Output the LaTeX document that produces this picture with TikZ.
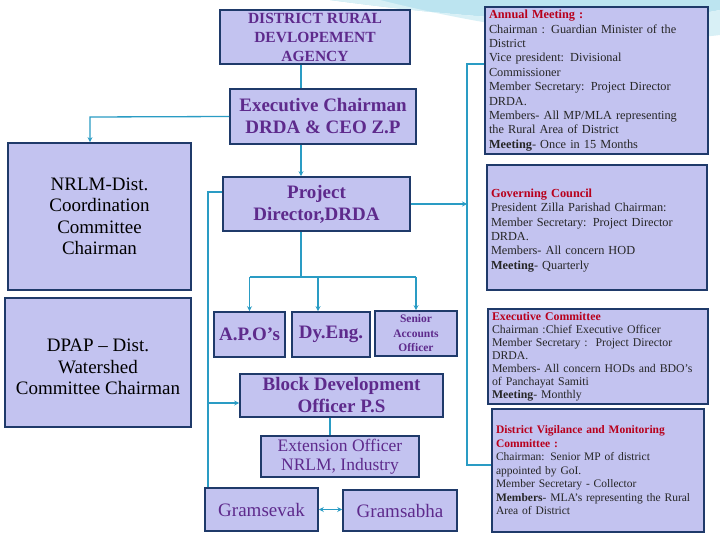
\documentclass[tikz,border=0pt]{standalone}
\usepackage{fontspec}
\setmainfont{Liberation Serif}
\usetikzlibrary{arrows.meta,calc}
\definecolor{boxfill}{HTML}{C3C3F0}
\definecolor{boxline}{HTML}{1F3A6A}
\definecolor{ptxt}{HTML}{5E2A8C}
\definecolor{conn}{HTML}{2A9CC4}
\definecolor{hdr}{HTML}{B8001C}
\definecolor{swoosh}{HTML}{8FD3E6}
\begin{document}
\begin{tikzpicture}[x=1pt,y=-1pt,
  box/.style={draw=boxline,line width=1.6pt,fill=boxfill,align=center,inner sep=2pt},
  ptitle/.style={box,text=ptxt,font=\bfseries\fontsize{19}{22}\selectfont},
  pplain/.style={box,text=ptxt,font=\fontsize{19}{22}\selectfont},
  lbox/.style={box,text=black,font=\fontsize{19}{21.5}\selectfont},
  rbox/.style={box,align=left,font=\fontsize{12.3}{14.4}\selectfont,text=black!85,inner sep=3pt},
  con/.style={draw=conn,line width=1.3pt},
  arr/.style={con,-{Stealth[length=5pt,width=5pt]}}]
\useasboundingbox (0,0) rectangle (720,540);
\fill[white] (0,0) rectangle (720,540);
% decorative swoosh
\fill[swoosh!60] (330,0) .. controls (480,20) and (620,30) .. (720,10) -- (720,0) -- cycle;
\fill[swoosh!35] (380,0) .. controls (520,35) and (640,45) .. (720,35) -- (720,10) .. controls (620,30) and (480,20) .. (330,0) -- cycle;
% nodes
\node[ptitle,minimum width=190,minimum height=54,font=\bfseries\fontsize{15.5}{19}\selectfont] (drda) at (315,37) {DISTRICT RURAL\\DEVLOPEMENT\\AGENCY};
\node[ptitle,minimum width=186,minimum height=55] (exec) at (323,116.5) {Executive Chairman\\DRDA \& CEO Z.P};
\node[ptitle,minimum width=187,minimum height=54] (pd) at (316.5,204) {Project\\Director,DRDA};
\node[ptitle,minimum width=71,minimum height=45] (apo) at (249.5,334.5) {A.P.O’s};
\node[ptitle,minimum width=78,minimum height=45] (dy) at (331,334.5) {Dy.Eng.};
\node[ptitle,minimum width=82,minimum height=45,font=\bfseries\fontsize{11.5}{14.5}\selectfont] (sao) at (416,333.5) {Senior\\Accounts\\Officer};
\node[ptitle,minimum width=203,minimum height=43] (bdo) at (341.5,395.5) {Block Development\\Officer P.S};
\node[pplain,minimum width=158,minimum height=41,font=\fontsize{17.5}{19}\selectfont] (ext) at (340,456.5) {Extension Officer\\NRLM, Industry};
\node[pplain,minimum width=113,minimum height=43] (gs) at (261.5,509.5) {Gramsevak};
\node[pplain,minimum width=114,minimum height=41] (gb) at (400,510.5) {Gramsabha};
\node[lbox,minimum width=183,minimum height=147] (nrlm) at (99.5,216.5) {NRLM-Dist.\\Coordination\\Committee\\Chairman};
\node[lbox,minimum width=186,minimum height=129] (dpap) at (98,362.5) {\\DPAP – Dist.\\Watershed\\Committee Chairman};
\node[rbox,minimum width=223,minimum height=145,text width=215] (ann) at (596.5,80.5) {{\color{hdr}\bfseries Annual Meeting :}\\Chairman : Guardian Minister of the\\District\\Vice president: Divisional\\Commissioner\\Member Secretary: Project Director\\DRDA.\\Members- All MP/MLA representing\\the Rural Area of District\\\textbf{Meeting}- Once in 15 Months};
\node[rbox,minimum width=220,minimum height=125,text width=212] (gov) at (597,227.5) {\\{\color{hdr}\bfseries Governing Council}\\President Zilla Parishad Chairman:\\Member Secretary: Project Director\\DRDA.\\Members- All concern HOD\\\textbf{Meeting}- Quarterly};
\node[rbox,minimum width=220,minimum height=93,text width=212,font=\fontsize{11.8}{13}\selectfont] (ec) at (598,356.5) {{\color{hdr}\bfseries Executive Committee}\\Chairman :Chief Executive Officer\\Member Secretary :\ \ Project Director\\DRDA.\\Members- All concern HODs and BDO’s\\of Panchayat Samiti\\\textbf{Meeting}- Monthly};
\node[rbox,minimum width=212,minimum height=123,text width=204,font=\fontsize{11.5}{13.5}\selectfont] (dvm) at (598,470.5) {{\color{hdr}\bfseries District Vigilance and Monitoring\\Committee :}\\Chairman: Senior MP of district\\appointed by GoI.\\Member Secretary - Collector\\\textbf{Members}- MLA’s representing the Rural\\Area of District\\};
% connectors
\coordinate (cx) at (301,0);
\coordinate (bus) at (301,277);
\coordinate (lx) at (90,117);
\coordinate (px) at (208,192);
\coordinate (rx) at (467,204);
\coordinate (rtop) at (467,64);
\coordinate (rbot) at (467,465);
\coordinate (ex) at (330,0);
\draw[con] (drda.south -| cx) -- (exec.north -| cx);
\draw[arr] (exec.south -| cx) -- (pd.north -| cx);
\draw[arr] (exec.west) -- (lx) -- (nrlm.north -| lx);
\draw[con] (pd.south -| cx) -- (bus);
\draw[con] (bus -| apo.north) -- (bus -| sao.north);
\draw[arr] (bus -| apo.north) -- (apo.north);
\draw[arr] (bus -| 318,0) -- (dy.north -| 318,0);
\draw[arr] (bus -| sao.north) -- (sao.north);
\draw[con] (pd.west |- px) -- (px) -- (gs.north -| px);
\draw[arr] (px |- 0,403) -- (bdo.west |- 0,403);
\draw[con] (bdo.south -| ex) -- (ext.north -| ex);
\draw[con,{Stealth[length=5pt,width=5pt]}-{Stealth[length=5pt,width=5pt]}] (gs.east) -- (gb.west |- gs.east);
\draw[arr] (pd.east |- rx) -- (rx);
\draw[con] (ann.west |- rtop) -- (rtop) -- (rbot) -- (dvm.west |- rbot);
\end{tikzpicture}
\end{document}
